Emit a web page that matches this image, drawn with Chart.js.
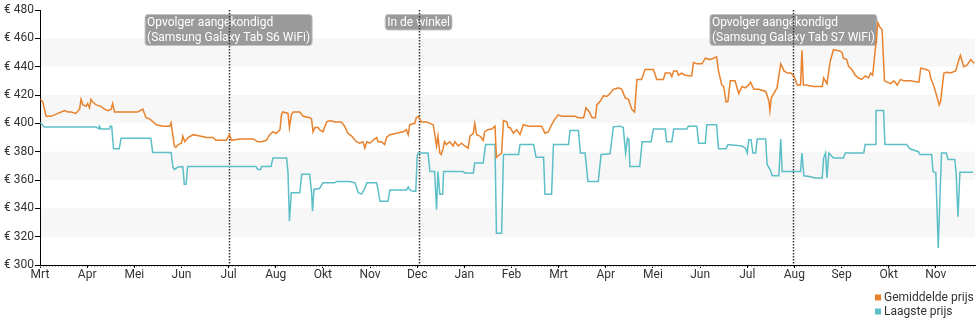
<!DOCTYPE html>
<html>
<head>
<meta charset="utf-8">
<script src="https://cdn.jsdelivr.net/npm/chart.js@4"></script>
<style>
html,body{margin:0;padding:0;background:#fff;overflow:hidden;}
#wrap{width:980px;height:325px;}
</style>
</head>
<body>
<div id="wrap"><canvas id="c" width="980" height="325"></canvas></div>
<script>
// x = months since the first "Mrt" tick
const monthLabels = ['Mrt','Apr','Mei','Jun','Jul','Aug','Okt','Nov','Dec','Jan','Feb','Mrt','Apr','Mei','Jun','Jul','Aug','Sep','Okt','Nov'];
const yTicks = [300,320,340,360,380,400,420,440,460,480];

const avgPrice = [
[0.01,417],[0.06,415],[0.13,405],[0.23,405],[0.31,406],[0.38,407],[0.52,409],[0.59,408],[0.66,408],[0.76,407],[0.84,410],[0.87,417],[0.91,413],[0.98,412],[1.01,414],[1.05,411],[1.08,417],[1.12,415],[1.19,413],[1.29,412],[1.37,410],[1.44,409],[1.51,410],[1.54,414],[1.58,408],[1.65,408],[2.07,408],[2.18,410],[2.25,404],[2.33,403],[2.47,399],[2.61,398],[2.75,398],[2.78,400.5],[2.82,391],[2.85,384],[2.88,383],[2.93,385],[3.0,386],[3.03,391],[3.07,387],[3.14,390],[3.25,392],[3.39,391],[3.53,390],[3.67,390],[3.73,388],[3.95,388],[4.02,392],[4.06,388],[4.24,389],[4.52,389],[4.62,387],[4.70,387],[4.80,388],[4.87,392],[4.94,394],[5.01,393],[5.09,395.5],[5.12,406],[5.15,408],[5.26,407],[5.29,397],[5.33,406],[5.37,408],[5.51,408],[5.58,405],[5.72,404],[5.76,403],[5.79,394],[5.83,397],[5.90,397],[5.93,395.5],[6.0,394],[6.08,401],[6.15,402],[6.26,401],[6.39,401],[6.46,398],[6.53,393],[6.61,391],[6.71,387],[6.78,386],[6.85,387],[6.89,382.5],[6.93,387],[7.0,386],[7.06,388],[7.14,390],[7.17,387],[7.24,387],[7.31,385],[7.35,390],[7.42,392],[7.56,393],[7.70,394],[7.77,395.5],[7.81,392],[7.84,399],[7.95,400],[7.98,404],[8.02,405],[8.09,401],[8.20,401],[8.27,400],[8.34,399],[8.37,393],[8.41,384],[8.44,391],[8.48,379],[8.51,378],[8.55,382.5],[8.58,387],[8.62,385],[8.69,387],[8.76,384],[8.80,387],[8.87,384],[8.94,386],[9.01,384],[9.08,382.5],[9.12,391],[9.19,393],[9.22,400],[9.26,392],[9.33,391],[9.40,388],[9.43,394],[9.50,395.5],[9.58,396],[9.65,398],[9.68,376],[9.75,378],[9.79,379],[9.83,402],[9.90,401],[9.93,397],[9.97,397],[10.04,393],[10.11,395.5],[10.18,392],[10.25,399],[10.36,398],[10.50,398],[10.64,398],[10.71,393],[10.78,394],[10.85,399],[10.92,403],[10.99,406],[11.06,405],[11.21,405],[11.35,405],[11.42,404],[11.53,404],[11.58,411],[11.65,408],[11.71,404],[11.78,404],[11.81,413],[11.88,415.5],[11.95,419.5],[12.02,419],[12.09,421],[12.16,424],[12.27,425],[12.34,424],[12.41,418],[12.48,417],[12.55,410],[12.61,408],[12.66,431],[12.76,431],[12.83,438],[13.01,438],[13.08,431],[13.22,431],[13.26,435.5],[13.36,435.5],[13.40,433],[13.44,437],[13.51,437],[13.54,434],[13.61,435.5],[13.68,434],[13.82,433.5],[13.86,443],[13.93,442],[14.04,442],[14.11,446],[14.21,445],[14.35,447],[14.39,437],[14.46,427],[14.50,426],[14.55,415],[14.59,415.5],[14.64,430],[14.74,430],[14.82,421],[14.89,426],[14.96,425],[15.03,427],[15.07,429],[15.14,424],[15.24,424],[15.39,422.5],[15.42,420],[15.46,415.5],[15.48,409],[15.51,418],[15.56,421],[15.63,425],[15.71,442],[15.78,437],[15.85,435.5],[15.92,435.5],[15.99,433.5],[16.06,427],[16.13,427],[16.16,451.5],[16.19,427],[16.24,427],[16.41,426],[16.59,426],[16.62,432],[16.69,428],[16.76,444],[16.83,452],[16.97,451],[17.01,450],[17.04,446],[17.11,445],[17.15,440],[17.22,438],[17.29,434],[17.36,432],[17.43,431],[17.50,433.5],[17.57,432],[17.62,435.5],[17.66,434],[17.73,457],[17.77,471],[17.81,468],[17.86,466],[17.91,430],[18.04,428],[18.11,430],[18.18,427],[18.25,431],[18.32,430],[18.46,430],[18.64,429],[18.68,439],[18.79,438],[18.86,437],[18.89,432],[18.96,426],[19.03,418],[19.07,413],[19.10,415.5],[19.17,435.5],[19.24,436],[19.31,435.5],[19.42,437],[19.49,445],[19.52,448],[19.59,440],[19.66,441],[19.74,445],[19.81,442.5]
];

const lowPrice = [
[0.01,400.5],[0.09,397.5],[1.19,397.5],[1.25,396],[1.26,398],[1.29,396],[1.47,396],[1.49,398],[1.52,398],[1.56,382],[1.68,382],[1.72,389.5],[2.35,389.5],[2.39,379.5],[2.78,379.5],[2.82,369],[2.85,367.5],[2.92,369],[3.03,369.5],[3.06,357],[3.10,357],[3.13,369.5],[4.58,369.5],[4.62,367.5],[4.68,367.5],[4.70,369.5],[4.90,369.5],[4.94,375.5],[5.23,375.5],[5.26,365],[5.29,331],[5.33,351],[5.51,351],[5.55,364],[5.72,364],[5.76,351],[5.78,338],[5.81,353.5],[5.93,354],[6.00,358],[6.25,358],[6.29,359],[6.57,359],[6.68,358],[6.75,351],[6.82,350],[6.89,354],[6.93,358],[7.14,358],[7.17,353],[7.21,345],[7.38,345],[7.42,353],[7.77,353],[7.81,355],[7.84,353],[7.91,352],[7.97,352],[8.00,377],[8.02,379],[8.23,379],[8.27,366],[8.37,366],[8.41,339],[8.44,366],[8.48,350],[8.54,350],[8.56,366],[8.97,366],[9.01,365],[9.19,365],[9.22,372],[9.40,372],[9.45,385],[9.65,385],[9.68,322.5],[9.79,322.5],[9.83,378],[10.15,378],[10.18,385],[10.47,385],[10.52,376],[10.68,376],[10.71,350],[10.85,350],[10.89,385],[11.21,385],[11.24,395],[11.42,395],[11.46,379],[11.56,379],[11.62,359],[11.84,359],[11.90,378],[12.09,378.5],[12.16,397.5],[12.30,398],[12.37,397],[12.42,379],[12.46,389.5],[12.49,388.5],[12.51,369.5],[12.72,369.5],[12.77,387],[12.96,387],[13.01,396],[13.26,396],[13.29,387],[13.40,387],[13.44,396],[13.72,396],[13.75,398],[13.93,398],[13.97,386],[14.11,386],[14.14,399],[14.35,399],[14.39,382],[14.55,382],[14.59,385],[14.89,384],[14.96,382.5],[15.00,379],[15.03,388.5],[15.08,388.5],[15.12,379],[15.18,379],[15.21,389],[15.39,389],[15.42,371],[15.49,367],[15.53,363],[15.67,363],[15.71,389],[15.74,366],[16.13,366],[16.16,379],[16.20,363],[16.31,362.5],[16.45,361.5],[16.59,361.5],[16.62,375.5],[16.66,379],[16.69,361.5],[16.73,379],[16.83,375.5],[17.04,375.5],[17.08,379],[17.47,379],[17.50,385],[17.71,385],[17.73,409],[17.89,409],[17.92,385],[18.38,385],[18.45,382],[18.63,380],[18.66,378],[18.91,378],[18.94,366],[19.00,365],[19.05,312],[19.12,379],[19.22,379],[19.26,374.5],[19.40,374.5],[19.43,365],[19.47,334],[19.51,365.5],[19.79,365.5]
];

const eventPos = [4.0, 8.03, 15.98];
const eventText = [
  ['Opvolger aangekondigd','(Samsung Galaxy Tab S6 WiFi)'],
  ['In de winkel'],
  ['Opvolger aangekondigd','(Samsung Galaxy Tab S7 WiFi)']
];
const seriesNames = ['Gemiddelde prijs','Laagste prijs'];
const seriesColors = ['#e8822c','#5cbec7'];

const FONT = 'Roboto, "Noto Sans", sans-serif';
Chart.defaults.font.family = FONT;
Chart.defaults.font.size = 12;
Chart.defaults.color = '#333';

const decor = {
  id: 'decor',
  beforeDatasetsDraw(chart) {
    const {ctx, chartArea: a, scales: {x, y}} = chart;
    ctx.save();
    // alternating bands
    ctx.fillStyle = '#f7f7f7';
    for (let v = 320; v < 480; v += 40) {
      const t = y.getPixelForValue(v + 20), b = y.getPixelForValue(v);
      ctx.fillRect(a.left + 1, t, a.right - a.left - 1, b - t);
    }
    // event label boxes
    ctx.font = '12px ' + FONT;
    eventPos.forEach((p, i) => {
      const px = x.getPixelForValue(p);
      const lines = eventText[i];
      const w = Math.max(...lines.map(l => ctx.measureText(l).width)) + 4;
      const h = lines.length * 15.5;
      const top = a.top + 4.5;
      const left = px - w / 2;
      ctx.beginPath();
      ctx.roundRect(left, top, w, h, 3);
      ctx.fillStyle = '#9a9a9a';
      ctx.fill();
      ctx.lineWidth = 1;
      ctx.strokeStyle = '#c4c4c4';
      ctx.stroke();
      ctx.fillStyle = '#fff';
      ctx.textBaseline = 'middle';
      ctx.textAlign = 'left';
      lines.forEach((l, j) => ctx.fillText(l, left + 2, top + 8 + j * 15.5));
    });
    // dotted event lines
    ctx.setLineDash([1.5, 1.5]);
    ctx.strokeStyle = '#333';
    ctx.lineWidth = 1.5;
    eventPos.forEach(p => {
      const px = Math.round(x.getPixelForValue(p)) + 0.5;
      ctx.beginPath();
      ctx.moveTo(px, a.top);
      ctx.lineTo(px, a.bottom);
      ctx.stroke();
    });
    ctx.restore();
  },
  afterDraw(chart) {
    const {ctx, chartArea: a} = chart;
    ctx.save();
    // minor day ticks along the x axis
    ctx.setLineDash([1, 2]);
    ctx.strokeStyle = '#aaa';
    ctx.lineWidth = 1;
    ctx.beginPath();
    ctx.moveTo(a.left, a.bottom + 1.5);
    ctx.lineTo(a.right, a.bottom + 1.5);
    ctx.stroke();
    ctx.setLineDash([]);
    // legend
    ctx.font = '12px ' + FONT;
    ctx.textBaseline = 'middle';
    ctx.textAlign = 'left';
    const lx = a.right - 100;
    seriesNames.forEach((n, i) => {
      const cy = 297.5 + i * 14;
      ctx.fillStyle = seriesColors[i];
      ctx.fillRect(lx, cy - 3, 6, 6);
      ctx.fillStyle = '#333';
      ctx.fillText(n, lx + 9, cy);
    });
    ctx.restore();
  }
};

new Chart(document.getElementById('c'), {
  type: 'line',
  data: {
    datasets: [
      { label: seriesNames[0], data: avgPrice.map(p => ({x: p[0], y: p[1]})), borderColor: seriesColors[0], borderWidth: 1.5, pointRadius: 0, tension: 0, fill: false },
      { label: seriesNames[1], data: lowPrice.map(p => ({x: p[0], y: p[1]})), borderColor: seriesColors[1], borderWidth: 1.5, pointRadius: 0, tension: 0, fill: false }
    ]
  },
  options: {
    responsive: false,
    animation: false,
    devicePixelRatio: 1,
    layout: { padding: { left: 0, right: 5, top: 10, bottom: 0 } },
    plugins: { legend: { display: false }, tooltip: { enabled: false } },
    scales: {
      x: {
        type: 'linear',
        min: 0,
        max: 19.83,
        afterFit(s) { s.height = 60; },
        grid: { drawOnChartArea: false, tickLength: 3, color: '#000' },
        border: { color: '#000', width: 1 },
        ticks: {
          stepSize: 1, includeBounds: false, autoSkip: false, maxRotation: 0, padding: 0,
          color: '#333', font: { size: 12 },
          callback: v => monthLabels[v] !== undefined && Number.isInteger(v) ? monthLabels[v] : ''
        }
      },
      y: {
        min: 300,
        max: 480,
        afterFit(s) { s.width = 40; },
        afterBuildTicks(s) { s.ticks = yTicks.map(v => ({value: v})); },
        grid: { drawOnChartArea: false, tickLength: 5, color: '#000' },
        border: { color: '#000', width: 1 },
        ticks: { padding: 1, color: '#333', font: { size: 12 }, callback: v => '€ ' + v }
      }
    }
  },
  plugins: [decor]
});
</script>
</body>
</html>
